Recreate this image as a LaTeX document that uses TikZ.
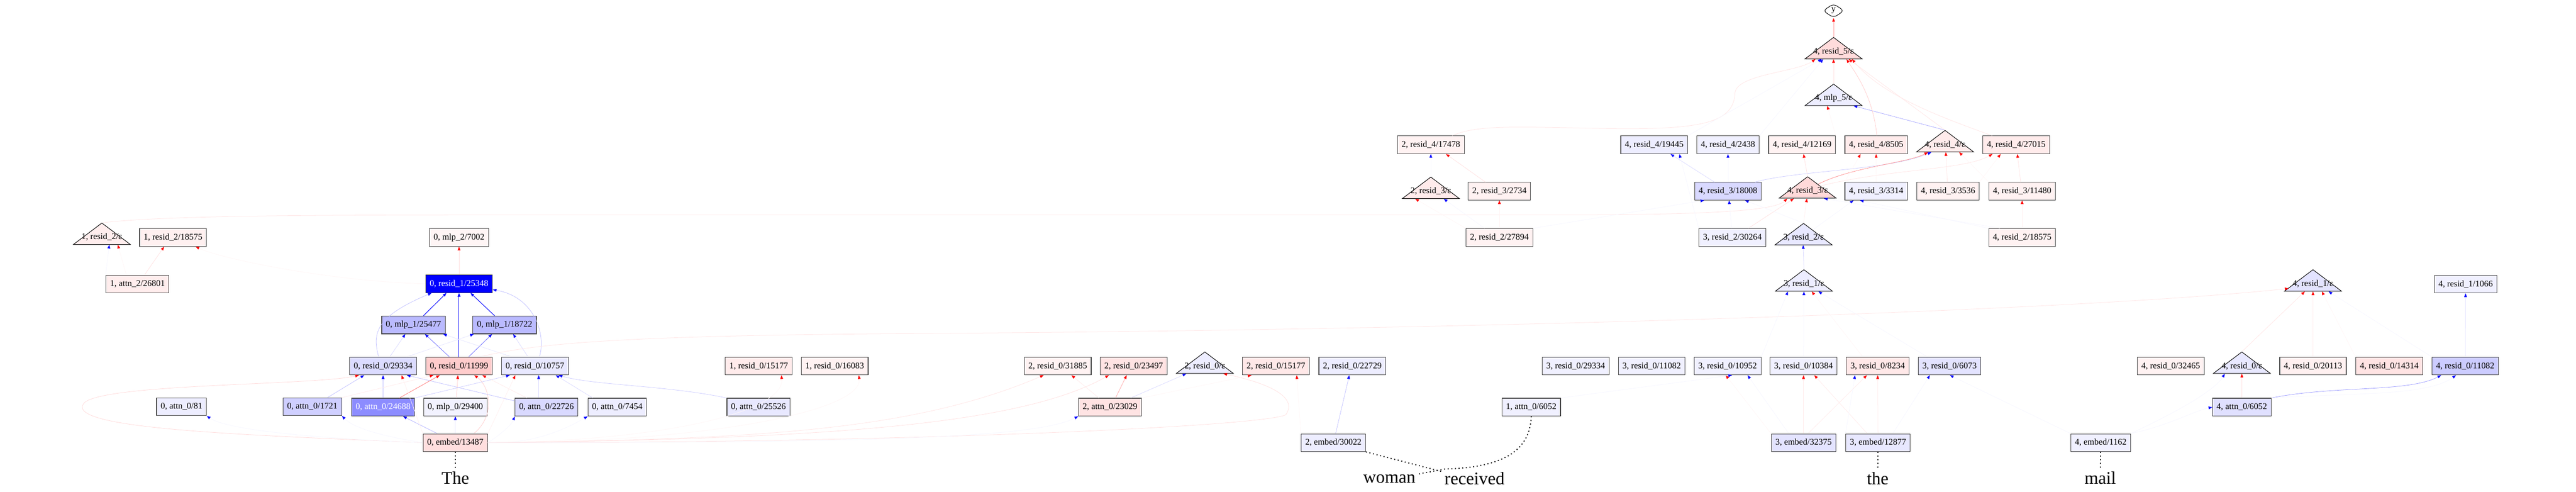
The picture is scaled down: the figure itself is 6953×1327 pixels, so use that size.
\documentclass[tikz,border=0pt]{standalone}
\usepackage{fontspec}
\setmainfont{Liberation Serif}
\usepackage{tikz}
\usetikzlibrary{shapes,arrows.meta,positioning,calc}

\begin{document}
\begin{tikzpicture}[
    x=0.01cm, y=-0.01cm,
    box/.style={rectangle, draw=black!75, line width=0.45pt, minimum height=0.48cm, inner xsep=0.11cm, inner ysep=0pt, font=\fontsize{6.7}{8}\selectfont},
    tlabel/.style={inner sep=0pt, minimum height=0.4cm, font=\fontsize{6.7}{8}\selectfont},
    tri/.style={draw=black, line width=0.4pt},
    word/.style={inner sep=0pt, font=\fontsize{13.6}{16}\selectfont},
    epos/.style={line width=0.3pt, draw=red!#1, -{Triangle[color=red, length=1mm, width=0.75mm]}},
    epos/.default=10,
    eneg/.style={line width=0.3pt, draw=blue!#1, -{Triangle[color=blue, length=1mm, width=0.75mm]}},
    eneg/.default=10,
    tok/.style={dotted, line width=0.8pt, shorten >=2pt}
]
    \fill[white] (0,0) rectangle (6953,1327);
    \useasboundingbox (0,0) rectangle (6953,1327);

    % Output
    \node[draw, diamond, rounded corners=3pt, aspect=1.5, minimum width=0.57cm, minimum height=0.38cm, inner sep=0pt, fill=white, font=\fontsize{6.7}{8}\selectfont] (out) at (4949,29) {y};

    % Triangles (epsilon nodes)
    \draw[tri, fill=red!14] (4949,101) -- (5026,159) -- (4872,159) -- cycle;
    \node[tlabel] (t4r5) at (4949,139) {4, resid\_5/ε};
    \draw[tri, fill=blue!7] (4949,227) -- (5026,285) -- (4872,285) -- cycle;
    \node[tlabel] (t4m5) at (4949,265) {4, mlp\_5/ε};
    \draw[tri, fill=red!8] (5250,352) -- (5327,410) -- (5173,410) -- cycle;
    \node[tlabel] (t4r4) at (5250,390) {4, resid\_4/ε};
    \draw[tri, fill=red!8] (3862,478) -- (3939,536) -- (3785,536) -- cycle;
    \node[tlabel] (t2r3) at (3862,516) {2, resid\_3/ε};
    \draw[tri, fill=red!15] (4879,477) -- (4956,535) -- (4802,535) -- cycle;
    \node[tlabel] (t4r3) at (4879,515) {4, resid\_3/ε};
    \draw[tri, fill=red!7] (275,602) -- (352,660) -- (198,660) -- cycle;
    \node[tlabel] (t1r2) at (275,640) {1, resid\_2/ε};
    \draw[tri, fill=blue!9] (4868,603) -- (4945,661) -- (4791,661) -- cycle;
    \node[tlabel] (t3r2) at (4868,641) {3, resid\_2/ε};
    \draw[tri, fill=blue!7] (4869,728) -- (4946,786) -- (4792,786) -- cycle;
    \node[tlabel] (t3r1) at (4869,766) {3, resid\_1/ε};
    \draw[tri, fill=blue!11] (6243,728) -- (6320,786) -- (6166,786) -- cycle;
    \node[tlabel] (t4r1) at (6243,766) {4, resid\_1/ε};
    \draw[tri, fill=blue!7] (3252,950) -- (3329,1008) -- (3175,1008) -- cycle;
    \node[tlabel] (t2r0) at (3252,988) {2, resid\_0/ε};
    \draw[tri, fill=blue!9] (6051,950) -- (6128,1008) -- (5974,1008) -- cycle;
    \node[tlabel] (t4r0) at (6051,988) {4, resid\_0/ε};

    % Layer 4 residuals
    \node[box, fill=red!5] (b2r4a) at (3862,391) {2, resid\_4/17478};
    \node[box, fill=blue!7] (b4r4a) at (4465,391) {4, resid\_4/19445};
    \node[box, fill=blue!6] (b4r4b) at (4664,391) {4, resid\_4/2438};
    \node[box, fill=red!5] (b4r4c) at (4864,391) {4, resid\_4/12169};
    \node[box, fill=red!8] (b4r4d) at (5064,391) {4, resid\_4/8505};
    \node[box, fill=red!8] (b4r4e) at (5442,391) {4, resid\_4/27015};

    % Layer 3 residuals
    \node[box, fill=red!5] (b2r3) at (4047,516) {2, resid\_3/2734};
    \node[box, fill=blue!15] (b4r3a) at (4664,516) {4, resid\_3/18008};
    \node[box, fill=blue!6] (b4r3b) at (5064,516) {4, resid\_3/3314};
    \node[box, fill=red!5] (b4r3c) at (5258,516) {4, resid\_3/3536};
    \node[box, fill=red!5] (b4r3d) at (5458,516) {4, resid\_3/11480};

    % Layer 2
    \node[box, fill=red!6] (b1r2) at (467,641) {1, resid\_2/18575};
    \node[box, fill=red!4] (b0m2) at (1239,641) {0, mlp\_2/7002};
    \node[box, fill=red!5] (b2r2) at (4047,641) {2, resid\_2/27894};
    \node[box, fill=blue!6] (b3r2) at (4676,641) {3, resid\_2/30264};
    \node[box, fill=red!5] (b4r2) at (5458,641) {4, resid\_2/18575};

    % Layer 1
    \node[box, fill=red!7] (b1a2) at (371,767) {1, attn\_2/26801};
    \node[box, fill=blue, text=white] (b0r1) at (1239,766) {0, resid\_1/25348};
    \node[box, fill=blue!6] (b4r1) at (6655,767) {4, resid\_1/1066};
    \node[box, fill=blue!27] (b0m1a) at (1116,877) {0, mlp\_1/25477};
    \node[box, fill=blue!27] (b0m1b) at (1362,877) {0, mlp\_1/18722};

    % Layer 0 residuals
    \node[box, fill=blue!14] (b0r0a) at (1034,988) {0, resid\_0/29334};
    \node[box, fill=red!20] (b0r0b) at (1239,988) {0, resid\_0/11999};
    \node[box, fill=blue!9] (b0r0c) at (1444,988) {0, resid\_0/10757};
    \node[box, fill=red!8] (b1r0a) at (2048,988) {1, resid\_0/15177};
    \node[box, fill=red!5] (b1r0b) at (2253,988) {1, resid\_0/16083};
    \node[box, fill=red!5] (b2r0a) at (2855,988) {2, resid\_0/31885};
    \node[box, fill=red!11] (b2r0b) at (3060,988) {2, resid\_0/23497};
    \node[box, fill=red!9] (b2r0c) at (3444,988) {2, resid\_0/15177};
    \node[box, fill=blue!7] (b2r0d) at (3650,988) {2, resid\_0/22729};
    \node[box, fill=blue!6] (b3r0a) at (4253,988) {3, resid\_0/29334};
    \node[box, fill=blue!6] (b3r0b) at (4458,988) {3, resid\_0/11082};
    \node[box, fill=blue!6] (b3r0c) at (4663,988) {3, resid\_0/10952};
    \node[box, fill=blue!6] (b3r0d) at (4868,988) {3, resid\_0/10384};
    \node[box, fill=red!9] (b3r0e) at (5068,988) {3, resid\_0/8234};
    \node[box, fill=blue!11] (b3r0f) at (5262,988) {3, resid\_0/6073};
    \node[box, fill=red!5] (b4r0a) at (5859,988) {4, resid\_0/32465};
    \node[box, fill=red!6] (b4r0b) at (6243,988) {4, resid\_0/20113};
    \node[box, fill=red!11] (b4r0c) at (6449,988) {4, resid\_0/14314};
    \node[box, fill=blue!20] (b4r0d) at (6654,988) {4, resid\_0/11082};

    % Layer 0 attn / mlp
    \node[box, fill=blue!7] (b0a0a) at (490,1098) {0, attn\_0/81};
    \node[box, fill=blue!19] (b0a0b) at (843,1098) {0, attn\_0/1721};
    \node[box, fill=blue!45, text=white] (b0a0c) at (1034,1099) {0, attn\_0/24688};
    \node[box, fill=blue!5] (b0m0) at (1229,1099) {0, mlp\_0/29400};
    \node[box, fill=blue!15] (b0a0d) at (1475,1099) {0, attn\_0/22726};
    \node[box, fill=blue!7] (b0a0e) at (1666,1099) {0, attn\_0/7454};
    \node[box, fill=blue!9] (b0a0f) at (2047,1099) {0, attn\_0/25526};
    \node[box, fill=red!11] (b2a0) at (2996,1099) {2, attn\_0/23029};
    \node[box, fill=blue!6] (b1a0) at (4133,1099) {1, attn\_0/6052};
    \node[box, fill=blue!12] (b4a0) at (6051,1099) {4, attn\_0/6052};

    % Embeddings
    \node[box, fill=red!13] (b0e) at (1229,1195) {0, embed/13487};
    \node[box, fill=blue!7] (b2e) at (3599,1195) {2, embed/30022};
    \node[box, fill=blue!11] (b3ea) at (4868,1195) {3, embed/32375};
    \node[box, fill=blue!9] (b3eb) at (5069,1195) {3, embed/12877};
    \node[box, fill=blue!6] (b4e) at (5670,1195) {4, embed/1162};

    % Tokens
    \node[word] (wThe) at (1229,1290) {The};
    \node[word] (wWoman) at (3750,1293) {woman};
    \node[word] (wReceived) at (3980,1292) {received};
    \node[word] (wthe) at (5068,1292) {the};
    \node[word] (wMail) at (5669,1290) {mail};

    % Token 0 edges
    \draw[epos=12] (b0r1) -- (b0m2);
    \draw[eneg=100, line width=0.4pt] ($(b0m1a.north)+(27,0)$) -- ($(b0r1.south)+(-34,0)$);
    \draw[eneg=100, line width=0.4pt] (b0r0b) -- (b0r1);
    \draw[eneg=100, line width=0.4pt] ($(b0m1b.north)+(-27,0)$) -- ($(b0r1.south)+(31,0)$);
    \draw[eneg=25] ($(b0r0a.north)+(-12,0)$) .. controls (1005,900) and (1012,855) .. ($(b0r1.south)+(-74,0)$);
    \draw[eneg=25] ($(b0r0c.north)+(12,0)$) .. controls (1475,900) and (1440,800) .. ($(b0r1.east)+(0,16)$);
    \draw[eneg=15] ($(b0r0a.north)+(18,0)$) -- ($(b0m1a.south)+(-22,0)$);
    \draw[eneg=60] ($(b0r0b.north)+(-26,0)$) -- ($(b0m1a.south)+(31,0)$);
    \draw[eneg=60] ($(b0r0b.north)+(26,0)$) -- ($(b0m1b.south)+(-34,0)$);
    \draw[eneg=15] ($(b0r0c.north)+(-19,0)$) -- ($(b0m1b.south)+(23,0)$);
    \draw[eneg=10] ($(b0r0a.north)+(64,0)$) -- ($(b0m1b.south)+(-83,0)$);
    \draw[eneg=10] ($(b0r0c.north)+(-63,0)$) -- ($(b0m1a.south)+(80,0)$);

    \draw[eneg=25, line width=0.6pt] (b0a0c) -- (b0r0a);
    \draw[eneg=25] ($(b0a0b.north)+(41,0)$) -- ($(b0r0a.south)+(-51,0)$);
    \draw[epos=55] ($(b0a0c.north)+(44,0)$) -- ($(b0r0b.south)+(-52,0)$);
    \draw[epos=8] (b0a0b.north east) -- ($(b0r0b.south)+(-69,0)$);
    \draw[epos=20] ($(b0m0.north)+(3,0)$) -- ($(b0r0b.south)+(-3,0)$);
    \draw[epos=20] ($(b0e.north)+(50,0)$) .. controls (1340,1120) and (1320,1040) .. ($(b0r0b.south)+(41,0)$);
    \draw[eneg=30] ($(b0e.north)+(-49,0)$) -- ($(b0a0c.south)+(54,0)$);
    \draw[eneg=10] (b0e) -- (b0m0);
    \draw[eneg=25] ($(b0a0d.north west)+(0,8)$) -- ($(b0r0a.south)+(64,0)$);
    \draw[eneg=20] (b0a0c.north east) -- ($(b0r0c.south)+(-68,0)$);
    \draw[epos=8] ($(b0a0d.north)+(-53,0)$) -- ($(b0r0b.south)+(63,0)$);
    \draw[eneg=15] ($(b0a0d.north)+(-21,0)$) -- ($(b0r0c.south)+(10,0)$);
    \draw[eneg=15] ($(b0a0e.north)+(-66,0)$) -- ($(b0r0c.south)+(56,0)$);
    \draw[eneg=20] (b0a0f.north west) .. controls (1800,1040) and (1600,1040) .. ($(b0r0c.south)+(64,0)$);
    \draw[epos=6] (b0e.north east) -- ($(b0r0c.south)+(-53,0)$);
    \draw[epos=6] (b0e.north west) -- ($(b0r0a.south)+(50,0)$);
    \draw[epos=15] (b0e.west) .. controls (700,1175) and (150,1160) .. (230,1085) .. controls (300,1035) and (850,1040) .. ($(b0r0a.south)+(-65,0)$);
    \draw[eneg=3] (b0e.west) .. controls (900,1185) and (620,1165) .. (b0a0a.south east);
    \draw[eneg=3] (b0e.west) .. controls (1050,1180) and (960,1160) .. (b0a0b.south east);
    \draw[eneg=3] (b0e.east) .. controls (1340,1180) and (1380,1150) .. (b0a0d.south west);
    \draw[eneg=3] (b0e.east) .. controls (1450,1200) and (1540,1150) .. (b0a0e.south west);

    % Token 1 edges
    \draw[epos=12] ($(b1a2.north)+(19,0)$) -- ($(b1r2.south)+(-24,0)$);
    \draw[epos=3] (b0r1.west) .. controls (900,760) and (600,700) .. ($(b1r2.south)+(61,0)$);
    \draw[eneg=3] (b1a2.north west) -- ($(t1r2.south)+(20,0)$);
    \draw[epos=3] ($(b1a2.north)+(-30,0)$) -- ($(t1r2.south)+(43,0)$);
    \draw[epos=10] ($(t1r2.north)+(0,-18)$) .. controls (420,585) and (700,580) .. (1300,580) -- (4200,580) .. controls (4600,580) and (4790,570) .. ($(t4r3.south)+(-55,0)$);
    \draw[epos=10] ($(b0r0b.north)+(57,0)$) .. controls (1450,925) and (1700,905) .. (2500,900) .. controls (4000,890) and (5600,840) .. ($(t4r1.south)+(-66,-8)$);
    \draw[epos=3] (b0e.east) .. controls (1800,1190) and (2120,1110) .. ($(b1r0a.south)+(61,0)$);
    \draw[epos=3] (b0e.east) .. controls (1900,1195) and (2330,1110) .. ($(b1r0b.south)+(65,0)$);

    % Token 2 edges
    \draw[epos=10] (b0e.east) .. controls (2000,1185) and (2450,1170) .. ($(b2r0a.south)+(-38,0)$);
    \draw[epos=12] (b0e.east) .. controls (2200,1185) and (2750,1150) .. ($(b2r0b.south)+(-67,0)$);
    \draw[epos=12] (b0e.east) .. controls (2500,1195) and (3400,1150) .. (3470,1120) .. controls (3500,1080) and (3450,1040) .. ($(t2r0.south)+(50,0)$);
    \draw[eneg=3] (b0e.east) .. controls (2400,1195) and (2800,1180) .. (b2a0.south west);
    \draw[epos=8] ($(b2a0.north)+(-30,0)$) -- ($(b2r0a.south)+(37,0)$);
    \draw[epos=35] ($(b2a0.north)+(15,0)$) -- ($(b2r0b.south)+(-19,0)$);
    \draw[eneg=15] ($(b2a0.north)+(56,0)$) -- ($(t2r0.south)+(-50,0)$);
    \draw[eneg=25] ($(b2e.north)+(6,0)$) -- ($(b2r0d.south)+(-8,0)$);
    \draw[epos=3] (b2a0.north east) -- ($(b2r0c.south)+(-66,0)$);
    \draw[epos=3] (b2e.north west) -- ($(b2r0c.south)+(56,0)$);
    \draw[epos=12] ($(b2r3.north)+(-38,0)$) -- ($(b2r4a.south)+(41,0)$);
    \draw[epos=5] (b2r2) -- (b2r3);
    \draw[eneg=3] ($(t2r3.north)+(0,-18)$) -- (b2r4a.south);
    \draw[epos=3] (b2r2.north west) -- ($(t2r3.south)+(-42,0)$);
    \draw[eneg=3] ($(b2r2.north)+(-40,0)$) -- ($(t2r3.south)+(35,0)$);
    \draw[epos=10] ($(b2r4a.north)+(58,0)$) .. controls (3990,335) and (4100,343) .. (4350,347) .. controls (4600,350) and (4680,330) .. (4683,250) .. controls (4690,200) and (4850,195) .. ($(t4r5.south)+(-49,0)$);

    % Token 3 edges
    \draw[epos=8] (b3ea) -- (b3r0d);
    \draw[epos=8] ($(b3ea.north)+(12,0)$) -- ($(b3r0e.south)+(-29,0)$);
    \draw[epos=8] ($(b3eb.north)+(-29,0)$) -- ($(b3r0d.south)+(29,0)$);
    \draw[epos=8] (b3eb) -- (b3r0e);
    \draw[epos=3] (b3ea.north west) -- ($(b3r0c.south)+(-5,0)$);
    \draw[eneg=3] (b1a0.north east) -- ($(b3r0c.south)+(12,0)$);
    \draw[eneg=3] ($(b3ea.north)+(-40,0)$) -- ($(b3r0c.south)+(54,0)$);
    \draw[eneg=3] (b3eb.north west) -- ($(b3r0e.south)+(-61,0)$);
    \draw[eneg=3] ($(b3eb.north)+(40,0)$) -- ($(b3r0f.south)+(-53,0)$);
    \draw[eneg=3] (b4e.north west) -- ($(b3r0f.south)+(1,0)$);
    \draw[eneg=3] (b3r0c.north east) -- ($(t3r1.south)+(-43,0)$);
    \draw[eneg=3] (b3r0d) -- (t3r1.south);
    \draw[epos=3] ($(b3r0e.north)+(-40,0)$) -- ($(t3r1.south)+(21,0)$);
    \draw[eneg=3] ($(b3r0f.north)+(-60,0)$) -- ($(t3r1.south)+(39,0)$);
    \draw[eneg=15] ($(t3r1.north)+(0,-18)$) -- ($(t3r2.south)+(-1,0)$);
    \draw[epos=6] ($(t3r2.north)+(0,-18)$) -- ($(t4r3.south)+(-2,0)$);
    \draw[epos=12] ($(b3r2.north)+(43,0)$) -- ($(t4r3.south)+(-37,0)$);

    % Token 4 upper edges
    \draw[eneg=15] ($(b4r3a.north)+(-37,0)$) -- ($(b4r4a.south)+(44,0)$);
    \draw[eneg=20] ($(b4r3a.north east)+(-17,0)$) .. controls (4850,460) and (5100,460) .. ($(t4r4.south)+(-37,0)$);
    \draw[epos=12] ($(t4r3.north)+(0,-18)$) -- ($(b4r4c.south)+(4,0)$);
    \draw[epos=45] ($(t4r3.north)+(28,3)$) .. controls (5000,450) and (5150,440) .. ($(t4r4.south)+(-46,0)$);
    \draw[epos=10] ($(t4r3.north)+(33,8)$) .. controls (5100,455) and (5300,460) .. ($(b4r4e.south)+(-64,0)$);
    \draw[epos=10] ($(b4r3c.north)+(-2,0)$) -- ($(t4r4.south)+(2,0)$);
    \draw[epos=10] ($(b4r3d.north)+(-4,0)$) -- ($(b4r4e.south)+(3,0)$);
    \draw[epos=6] (b4r2) -- (b4r3d);
    \draw[epos=3] (b4r3d.north west) -- ($(t4r4.south)+(38,0)$);
    \draw[epos=3] (b4r3c.north east) -- ($(b4r4e.south)+(-42,0)$);
    \draw[epos=3] (b4r3b) -- (b4r4d);
    \draw[epos=3] (b4r3b.north west) -- ($(b4r4d.south)+(-42,0)$);
    \draw[eneg=3] (b4r3a) -- (b4r4b);
    \draw[eneg=3] (b3r2.north west) -- ($(b4r4a.south)+(68,0)$);
    \draw[eneg=3] (b3r2) -- ($(b4r3a.south)+(3,0)$);
    \draw[eneg=3] ($(t3r2.north)+(0,-18)$) -- ($(b4r3a.south)+(46,0)$);
    \draw[eneg=3] (b2r2.north east) -- ($(b4r3a.south)+(-64,0)$);
    \draw[eneg=3] ($(t3r2.north)+(25,0)$) -- ($(b4r3b.south)+(-61,0)$);
    \draw[eneg=3] (b4r2.north west) -- ($(b4r3b.south)+(-44,0)$);
    \draw[eneg=3] ($(b4r2.north)+(-60,0)$) -- ($(t4r3.south)+(44,0)$);
    \draw[eneg=35] ($(t4r4.north)+(0,-18)$) -- ($(t4m5.south)+(54,0)$);
    \draw[epos=3] (b4r4c.north east) -- ($(t4m5.south)+(-17,0)$);
    \draw[epos=12] ($(t4m5.north)+(0,-18)$) -- (t4r5.south);
    \draw[epos=20] ($(b4r4d.north)+(2,0)$) .. controls (5055,260) and (5010,200) .. ($(t4r5.south)+(35,0)$);
    \draw[epos=10] ($(t4r4.north)+(0,-18)$) -- ($(t4r5.south)+(41,0)$);
    \draw[epos=10] ($(b4r4e.north west)+(26,0)$) .. controls (5250,320) and (5080,260) .. ($(t4r5.south)+(50,0)$);
    \draw[eneg=3] (b4r4a.north east) -- ($(t4r5.south)+(-32,0)$);
    \draw[eneg=3] (b4r4b.north east) -- ($(t4r5.south)+(-28,0)$);
    \draw[epos=40] ($(t4r5.north)+(0,-18)$) -- (out);

    % Token 4 lower edges
    \draw[epos=10] ($(t4r0.north)+(0,-18)$) -- ($(t4r1.south)+(-22,0)$);
    \draw[epos=8] (b4r0b) -- (t4r1);
    \draw[eneg=10] (b4r0d) -- (b4r1);
    \draw[epos=12] (b4a0) -- (t4r0);
    \draw[eneg=40] (b4a0.north east) .. controls (6300,1040) and (6500,1060) .. ($(b4r0d.south)+(-65,0)$);
    \draw[eneg=3] (b4a0.north east) .. controls (6350,1060) and (6550,1070) .. ($(b4r0d.south)+(-25,0)$);
    \draw[eneg=3] (b4e.north east) .. controls (5850,1150) and (5920,1110) .. (b4a0.west);
    \draw[eneg=3] (b4e.north east) .. controls (5900,1100) and (5980,1050) .. ($(t4r0.south)+(-46,0)$);
    \draw[epos=3] (b4r0c.north west) -- ($(t4r1.south)+(24,0)$);
    \draw[eneg=3] (b4r0d.north west) -- ($(t4r1.south)+(42,0)$);

    % Token links
    \draw[tok] (b0e) -- (wThe);
    \draw[tok] (b2e.south east) -- (wReceived.north west);
    \draw[tok] (b1a0.south) .. controls (4130,1215) and (4060,1262) .. (3900,1266) -- (wWoman.north east);
    \draw[tok] (b3eb) -- (wthe);
    \draw[tok] (b4e) -- (wMail);
\end{tikzpicture}
\end{document}
